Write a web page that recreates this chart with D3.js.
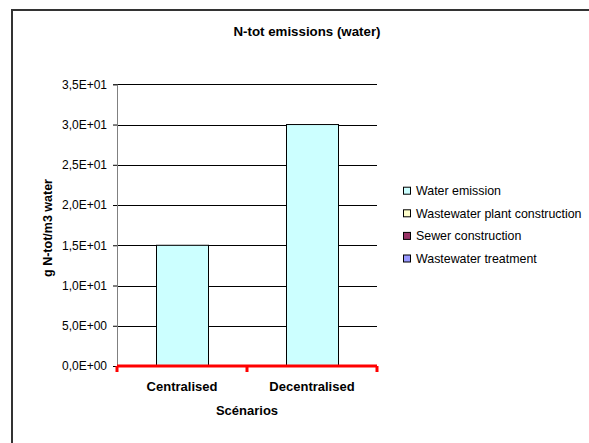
<!DOCTYPE html>
<html>
<head>
<meta charset="utf-8">
<script src="https://cdn.jsdelivr.net/npm/d3@7"></script>
<style>
  html, body { margin: 0; padding: 0; background: #fff; }
  svg { display: block; font-family: "Liberation Sans", Arial, sans-serif; }
</style>
</head>
<body>
<svg id="chart" width="589" height="443"></svg>
<script>
const categories = ["Centralised", "Decentralised"];
const seriesNames = ["Water emission", "Wastewater plant construction", "Sewer construction", "Wastewater treatment"];
const waterEmission = [15, 30];
const plantConstruction = [0, 0];
const sewerConstruction = [0, 0];
const wastewaterTreatment = [0, 0];
const seriesColors = ["#CCFFFF", "#FFFFCC", "#993366", "#9999FF"];
const yTicks = [0, 5, 10, 15, 20, 25, 30, 35];
const title = "N-tot emissions (water)";
const yTitle = "g N-tot/m3 water";
const xTitle = "Scénarios";

const svg = d3.select("#chart");

// outer chart border (clipped by the window at right/bottom)
svg.append("rect").attr("x", 12).attr("y", 10).attr("width", 620).attr("height", 480)
  .attr("fill", "#fff").attr("stroke", "#333").attr("stroke-width", 2);

const plot = { left: 117, right: 377, top: 84.3, bottom: 366 };

const y = d3.scaleLinear().domain([0, 35]).range([plot.bottom, plot.top]);
const x = d3.scaleBand().domain(categories).range([plot.left, plot.right])
  .paddingInner(0.6).paddingOuter(0.3);

const fmt = v => {
  if (v === 0) return "0,0E+00";
  const e = Math.floor(Math.log10(Math.abs(v)));
  const m = v / Math.pow(10, e);
  const es = (e < 0 ? "-" : "+") + String(Math.abs(e)).padStart(2, "0");
  return m.toFixed(1).replace(".", ",") + "E" + es;
};

// gridlines
svg.append("g").selectAll("line").data(yTicks.filter(d => d > 0)).join("line")
  .attr("x1", plot.left).attr("x2", plot.right)
  .attr("y1", d => Math.round(y(d)) + 0.5).attr("y2", d => Math.round(y(d)) + 0.5)
  .attr("stroke", "#000").attr("stroke-width", 1);

// y axis
const yAxis = d3.axisLeft(y).tickValues(yTicks).tickFormat(fmt).tickSize(4).tickPadding(6);
const gy = svg.append("g").attr("transform", `translate(${plot.left},0)`).call(yAxis);
gy.select(".domain").attr("stroke", "#808080");
gy.selectAll(".tick line").attr("stroke", "#000");
gy.selectAll(".tick text").attr("font-size", 12).attr("fill", "#000")
  .attr("font-family", "'Liberation Sans', Arial, sans-serif");

// stacked bars
const rows = categories.map((c, i) => ({
  cat: c,
  "Water emission": waterEmission[i],
  "Wastewater plant construction": plantConstruction[i],
  "Sewer construction": sewerConstruction[i],
  "Wastewater treatment": wastewaterTreatment[i]
}));
const stack = d3.stack().keys(seriesNames)(rows);
const color = d3.scaleOrdinal().domain(seriesNames).range(seriesColors);

svg.append("g").selectAll("g").data(stack).join("g")
  .attr("fill", d => color(d.key))
  .selectAll("rect").data(d => d.filter(p => p[1] - p[0] > 0)).join("rect")
  .attr("x", d => x(d.data.cat) + 0.5)
  .attr("y", d => y(d[1]))
  .attr("width", x.bandwidth())
  .attr("height", d => y(d[0]) - y(d[1]))
  .attr("stroke", "#000").attr("stroke-width", 1);

// x axis (red)
const step = x.step();
svg.append("line").attr("x1", plot.left).attr("x2", plot.right)
  .attr("y1", plot.bottom).attr("y2", plot.bottom)
  .attr("stroke", "#FF0000").attr("stroke-width", 3);
const boundaries = d3.range(categories.length + 1).map(i => plot.left + i * step);
svg.append("g").selectAll("line").data(boundaries).join("line")
  .attr("x1", d => d).attr("x2", d => d)
  .attr("y1", plot.bottom).attr("y2", plot.bottom + 6)
  .attr("stroke", "#FF0000").attr("stroke-width", 3);

// category labels
svg.append("g").selectAll("text").data(categories).join("text")
  .attr("x", d => x(d) + x.bandwidth() / 2)
  .attr("y", 391)
  .attr("text-anchor", "middle").attr("font-size", 13).attr("font-weight", "bold")
  .text(d => d);

// axis titles
svg.append("text").attr("x", 247).attr("y", 415).attr("text-anchor", "middle")
  .attr("font-size", 13).attr("font-weight", "bold").text(xTitle);
svg.append("text").attr("transform", "translate(52,228) rotate(-90)")
  .attr("text-anchor", "middle").attr("font-size", 12.5).attr("font-weight", "bold").text(yTitle);

// title
svg.append("text").attr("x", 307).attr("y", 35.5).attr("text-anchor", "middle")
  .attr("font-size", 13.3).attr("font-weight", "bold").text(title);

// legend
const legend = svg.append("g").selectAll("g").data(seriesNames).join("g")
  .attr("transform", (d, i) => `translate(403,${190.7 + i * 22.6})`);
legend.append("rect").attr("x", 0.5).attr("y", -3.5).attr("width", 7).attr("height", 7)
  .attr("fill", d => color(d)).attr("stroke", "#000").attr("stroke-width", 1);
legend.append("text").attr("x", 13).attr("y", 4.3).attr("font-size", 12.4).text(d => d);
</script>
</body>
</html>
